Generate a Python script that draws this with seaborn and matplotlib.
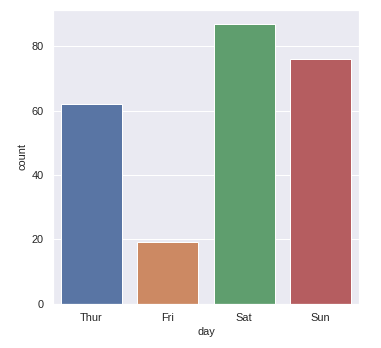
import matplotlib
matplotlib.use("Agg")
import matplotlib.pyplot as plt
import seaborn as sns
import pandas as pd

days = ["Thur", "Fri", "Sat", "Sun"]
counts = [62, 19, 87, 76]

sns.set_theme(style="darkgrid", palette="deep")
plt.rcParams["font.family"] = ["Liberation Sans", "DejaVu Sans"]
plt.rcParams.update({"xtick.labelsize": 11, "ytick.labelsize": 11, "axes.labelsize": 11})

rows = []
for d, c in zip(days, counts):
    rows += [d] * c
df = pd.DataFrame({"day": pd.Categorical(rows, categories=days, ordered=True)})

fig = plt.figure(figsize=(381 / 72, 348 / 72), dpi=72)
ax = fig.add_axes([53 / 381, 44.5 / 348, 306 / 381, 293.5 / 348])
sns.countplot(data=df, x="day", hue="day", palette="deep", legend=False,
              order=days, hue_order=days, ax=ax, edgecolor="white", linewidth=1)
ax.set_xlabel("day")
ax.set_ylabel("count")
fig.savefig("out.png", dpi=72)
